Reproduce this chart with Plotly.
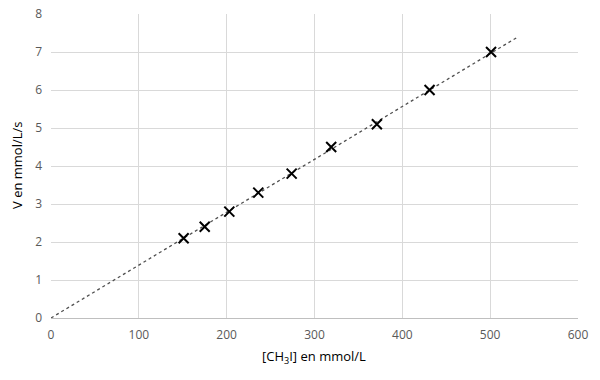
import numpy as np
import plotly.graph_objects as go

conc = [151, 175, 203, 236, 274, 319, 371, 431, 501]
speed = [2.1, 2.4, 2.8, 3.3, 3.8, 4.5, 5.1, 6.0, 7.0]
x_ticks = [0, 100, 200, 300, 400, 500, 600]
y_ticks = [0, 1, 2, 3, 4, 5, 6, 7, 8]
trend_end = 530

cx = np.array(conc, float)
cy = np.array(speed, float)
slope = float((cx * cy).sum() / (cx * cx).sum())
tx = [0, trend_end]
ty = [0, slope * trend_end]

fig = go.Figure()
fig.add_trace(go.Scatter(x=tx, y=ty, mode="lines",
                         line=dict(color="#505050", width=1.3, dash="dot"),
                         hoverinfo="skip", showlegend=False))
fig.add_trace(go.Scatter(x=conc, y=speed, mode="markers",
                         marker=dict(symbol="x-thin", size=10, color="black",
                                     line=dict(color="black", width=2)),
                         showlegend=False))

# page has an 8px body margin; compensate so the plot lands where the reference has it
off = 8
L, T, PW, PH = 51 - off, 14 - off, 527, 304
R = 600 - L - PW
B = 380 - T - PH

def px_to_paper(px, py):
    return (px - off - L) / PW, (380 - (py - off) - B) / PH

xt = px_to_paper(314, 357)
yt = px_to_paper(17, 166)

font = "Open Sans, Liberation Sans, sans-serif"
fig.update_layout(
    width=600, height=380,
    margin=dict(l=L, r=R, t=T, b=B),
    paper_bgcolor="white", plot_bgcolor="white",
    font=dict(family=font),
    xaxis=dict(range=[0, 600], tickvals=x_ticks, showgrid=True,
               gridcolor="#d9d9d9", gridwidth=1, zeroline=False,
               showline=True, linecolor="#bfbfbf", linewidth=1,
               tickfont=dict(size=12, color="#595959"), ticks="",
               ticklabelstandoff=6, automargin=False,
               ticklabeloverflow="allow"),
    yaxis=dict(range=[0, 8], tickvals=y_ticks, showgrid=True,
               gridcolor="#d9d9d9", gridwidth=1, zeroline=False,
               showline=False, ticks="",
               tickfont=dict(size=12, color="#595959"),
               ticklabelstandoff=8, automargin=False,
               ticklabeloverflow="allow"),
    annotations=[
        dict(text="[CH<sub>3</sub>I] en mmol/L", x=xt[0], y=xt[1],
             xanchor="center", yanchor="middle",
             xref="paper", yref="paper", showarrow=False,
             font=dict(size=13, color="#000000")),
        dict(text="V en mmol/L/s", x=yt[0], y=yt[1], textangle=-90,
             xanchor="center", yanchor="middle",
             xref="paper", yref="paper", showarrow=False,
             font=dict(size=13, color="#000000")),
    ],
)
fig.write_html("out.html")
